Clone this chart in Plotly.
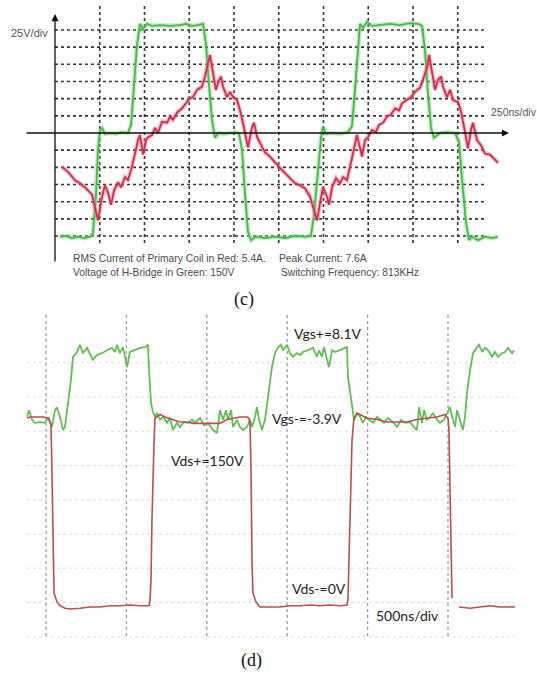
import plotly.graph_objects as go

# ---------------- DATA ----------------
# Panel (c): H-bridge voltage (green, V) and primary coil current (red, A) vs time (ns)
c_green_t = [28, 61, 95, 129, 162, 196, 212, 229, 240, 251, 263, 279, 307, 341, 374, 408, 425, 441, 458, 475,
             492, 514, 542, 587, 643, 698, 732, 765, 799, 827, 844, 860, 877, 894, 911, 944, 978, 1011, 1028, 1045,
             1062, 1078, 1095, 1123, 1173, 1229, 1285, 1341, 1397, 1430, 1447, 1469, 1486, 1497, 1514, 1548, 1592,
             1637, 1659, 1676, 1693, 1704, 1721, 1743, 1771, 1816, 1872, 1927, 1983, 2028, 2050, 2067, 2084, 2101,
             2117, 2151, 2190, 2235, 2257, 2274, 2296, 2313, 2330, 2363, 2402, 2441, 2475]
c_green_v = [-151, -150, -153, -151, -153, -151, -146, -90, -25, 3, 7, -1, 0, -1, 1, 0, 12, 70, 128, 159,
             151, 159, 156, 157, 156, 157, 159, 156, 157, 159, 128, 70, 19, -7, 0, -1, 0, 1, -1, -25,
             -90, -144, -156, -151, -153, -151, -153, -150, -151, -150, -119, -54, -7, 9, -1, 0, -1,
             1, 10, 63, 128, 159, 153, 162, 156, 157, 159, 157, 160, 159, 156, 121, 55, 7,
             -7, 0, 1, 0, -13, -68, -130, -156, -151, -156, -151, -153, -151]

c_red_t = [39, 73, 112, 140, 168, 184, 207, 223, 240, 263, 279, 296, 313, 330, 352, 369, 391, 408, 430, 447,
           464, 475, 492, 508, 520, 542, 559, 575, 598, 626, 643, 659, 682, 710, 737, 754, 771, 793, 821, 838,
           855, 866, 883, 899, 911, 927, 939, 961, 978, 994, 1017, 1034, 1050, 1078, 1101, 1112, 1129, 1145,
           1173, 1201, 1229, 1257, 1285, 1313, 1341, 1369, 1397, 1425, 1441, 1464, 1481, 1497, 1520, 1531,
           1548, 1570, 1592, 1609, 1631, 1648, 1665, 1687, 1698, 1715, 1732, 1749, 1771, 1793, 1810, 1832,
           1855, 1877, 1900, 1922, 1939, 1967, 1989, 2011, 2039, 2056, 2079, 2090, 2106, 2123, 2140, 2157,
           2168, 2190, 2207, 2224, 2252, 2268, 2285, 2307, 2324, 2335, 2358, 2380, 2402, 2430, 2458, 2475]
c_red_i = [-3.3, -3.8, -4.6, -4.9, -5.3, -5.6, -6.0, -7.2, -8.5, -6.2, -5.1, -5.8, -7.0, -5.6, -4.8, -5.3, -4.3, -4.6, -3.3, -2.0,
           -0.7, -0.2, -2.1, -0.7, -0.4, -0.2, 0.5, 0.0, 1.1, 1.0, 1.6, 1.3, 2.0, 2.4, 3.0, 3.4, 3.5, 4.2, 4.5, 5.5,
           6.8, 7.6, 5.8, 4.2, 4.9, 5.5, 4.5, 3.5, 4.0, 3.5, 3.2, 2.2, 1.0, -1.4, 0.6, 1.0, -0.4, -1.0,
           -1.9, -2.3, -2.9, -3.4, -3.9, -4.4, -4.9, -5.1, -5.4, -6.2, -7.2, -8.5, -6.8, -5.3, -6.2, -7.0,
           -5.3, -4.4, -4.9, -4.3, -4.6, -3.4, -2.0, -0.2, -1.0, -2.3, -0.7, -0.4, 0.3, 0.1, 0.8, 1.0,
           1.6, 1.8, 2.4, 2.2, 2.9, 3.2, 3.5, 4.0, 4.4, 5.2, 6.4, 7.6, 5.8, 4.2, 5.2, 5.5,
           4.5, 3.5, 4.2, 3.2, 3.0, 2.1, 0.6, -1.5, 0.3, 1.0, -0.7, -1.2, -2.0, -2.1, -2.6, -2.9]

# Panel (d): gate-source voltage (green, V) and drain-source voltage (red, V) vs time (ns)
d_vgs_t = [-118, -106, -87, -68, -37, -6, 12, 37, 56, 68, 87, 106, 118, 137, 155, 168, 193, 211, 230, 255,
           274, 292, 317, 348, 379, 410, 429, 442, 460, 479, 491, 504, 522, 553, 585, 616, 634, 641, 653, 665,
           678, 690, 709, 728, 753, 771, 790, 815, 833, 858, 883, 908, 927, 958, 983, 1007, 1039, 1063, 1082,
           1101, 1119, 1132, 1151, 1163, 1188, 1206, 1225, 1250, 1269, 1281, 1300, 1312, 1325, 1343, 1362,
           1381, 1405, 1424, 1443, 1461, 1474, 1499, 1517, 1536, 1561, 1580, 1598, 1629, 1660, 1685, 1698,
           1716, 1729, 1748, 1760, 1779, 1797, 1828, 1860, 1872, 1878, 1891, 1903, 1916, 1934, 1953, 1971,
           1990, 2009, 2034, 2058, 2077, 2102, 2127, 2158, 2183, 2208, 2233, 2264, 2295, 2307, 2320, 2338,
           2351, 2369, 2388, 2407, 2432, 2450, 2475, 2494, 2512, 2531, 2544, 2556, 2575, 2593, 2606, 2618,
           2637, 2656, 2680, 2693, 2712, 2730, 2749, 2774, 2792, 2811, 2836, 2855, 2873, 2898, 2911]
d_vgs_v = [-3.3, -2.2, -3.8, -4.3, -4.2, -4.3, -3.5, -5.0, -2.2, -1.7, -3.3, -5.5, -5.0, -1.0, 2.8, 6.7, 7.5, 8.7, 7.3, 8.2,
           7.3, 6.2, 7.0, 7.3, 7.8, 8.2, 7.5, 8.7, 7.3, 8.3, 6.7, 5.0, 7.5, 7.8, 8.2, 8.3, 8.7, 4.5, -1.0, -2.5,
           -3.3, -2.7, -3.8, -3.3, -4.3, -3.5, -5.5, -4.3, -5.0, -4.2, -4.3, -3.8, -4.3, -3.5, -4.7, -4.3, -5.5, -6.0, -2.2,
           -3.8, -2.2, -3.8, -2.2, -5.0, -3.8, -5.0, -5.5, -5.0, -3.8, -5.0, -3.3, -1.7, -3.8, -5.5, -3.8,
           0.0, 5.0, 7.3, 8.3, 8.7, 7.8, 8.7, 7.3, 6.7, 7.3, 7.0, 7.5, 7.8, 8.2, 6.7, 7.8,
           6.7, 8.3, 6.2, 5.0, 7.8, 7.5, 7.8, 8.2, 8.3, 3.3, 0.7, -1.7, -3.8, -2.7, -3.3, -4.3,
           -3.3, -3.8, -4.3, -3.3, -3.8, -4.3, -3.5, -4.2, -5.0, -3.8, -4.3, -4.2, -5.2, -5.5, -1.7, -4.3,
           -2.2, -3.8, -3.3, -2.7, -3.8, -4.3, -3.8, -2.7, -1.7, -3.8, -5.0, -2.2, -3.8, -5.5, -3.3, 0.7,
           4.5, 7.3, 8.3, 8.7, 7.5, 8.2, 7.8, 6.7, 7.5, 6.7, 7.3, 7.5, 8.2, 7.3, 7.8]

d_vds_t = [-118, -100, -56, -19, 19, 31, 37, 44, 50, 68, 87, 118, 149, 211, 274, 336, 398, 460, 522, 585,
           641, 647, 653, 659, 665, 672, 678, 709, 740, 790, 833, 877, 914, 958, 1001, 1039, 1082, 1126, 1163,
           1206, 1250, 1262, 1269, 1275, 1281, 1287, 1306, 1331, 1393, 1455, 1517, 1580, 1642, 1704, 1766,
           1828, 1872, 1878, 1884, 1891, 1897, 1903, 1915, 1934, 1953, 1996, 2058, 2121, 2183, 2245, 2307,
           2369, 2432, 2481, 2500, 2506, 2512, 2519, 2525, None, 2568, 2637, 2699, 2761, 2823, 2917]
d_vds_v = [149, 150, 150, 150, 149, 144, 108, 37, 11, 4, 1, -1, -1.6, -1, 0, 0, 1, 1, 1.6, 1,
           1, 5.5, 21, 69, 108, 131, 149, 152, 150, 148, 146, 146, 145, 145, 145, 144.5, 145, 148, 149,
           150, 150, 149, 144, 108, 37, 11, 4, 0, 0, 0, 1, 1, 1.6, 1, 1.6,
           1, 1.6, 5.5, 37, 69, 108, 131, 149, 153, 152, 149, 148, 146, 146, 146, 148,
           149, 150, 152, 149, 140, 100, 37, 7, None, 0, -1, 0, 1, 0, 0]

# ---------------- LAYOUT CONSTANTS (pixel geometry of the picture) ----------------
W, H = 537, 675
C_X0, C_XDIV, C_NS = 55, 44.75, 250
C_Y0, C_YDIV, C_V, C_A = 133, 17.17, 25, 1.672
C_TOP, C_BOT = 0, 290
D_X0, D_XDIV, D_NS = 46, 80.4, 500
D_VGS_Y0, D_PX_PER_VGS = 397, 6.0
D_VDS_Y0, D_PX_PER_VDS = 607, 1.2667
D_GRID = 34.25
D_TOP, D_BOT = 300, 650


def c_t(px): return (px - C_X0) / C_XDIV * C_NS
def c_v(py): return (C_Y0 - py) / C_YDIV * C_V
def c_i(py): return (C_Y0 - py) / C_YDIV * C_A
def d_t(px): return (px - D_X0) / D_XDIV * D_NS
def d_vgs(py): return (D_VGS_Y0 - py) / D_PX_PER_VGS
def d_vds(py): return (D_VDS_Y0 - py) / D_PX_PER_VDS


fig = go.Figure()

# panel (c) traces (glow + core)
fig.add_trace(go.Scatter(x=c_green_t, y=c_green_v, mode='lines', xaxis='x', yaxis='y',
                         line=dict(color='rgba(120,210,120,0.45)', width=4.5), hoverinfo='skip'))
fig.add_trace(go.Scatter(x=c_green_t, y=c_green_v, mode='lines', xaxis='x', yaxis='y',
                         line=dict(color='#4cb64c', width=1.8)))
fig.add_trace(go.Scatter(x=c_red_t, y=c_red_i, mode='lines', xaxis='x', yaxis='y2',
                         line=dict(color='rgba(235,130,150,0.5)', width=4.5), hoverinfo='skip'))
fig.add_trace(go.Scatter(x=c_red_t, y=c_red_i, mode='lines', xaxis='x', yaxis='y2',
                         line=dict(color='#c9304c', width=1.8)))

# panel (d) traces
fig.add_trace(go.Scatter(x=d_vgs_t, y=d_vgs_v, mode='lines', xaxis='x2', yaxis='y3',
                         line=dict(color='#62bd55', width=1.8)))
fig.add_trace(go.Scatter(x=d_vds_t, y=d_vds_v, mode='lines', xaxis='x2', yaxis='y4',
                         line=dict(color='#b7504d', width=1.6), connectgaps=False))

shapes = []
grid_c = dict(color='#333333', width=1.6, dash='dot')
for k in range(-6, 7):
    if k == 0:
        continue
    shapes.append(dict(type='line', xref='x', yref='y', x0=c_t(C_X0), x1=c_t(487),
                       y0=k * C_V, y1=k * C_V, line=grid_c, layer='below'))
for k in range(1, 10):
    shapes.append(dict(type='line', xref='x', yref='y', x0=k * C_NS, x1=k * C_NS,
                       y0=c_v(243), y1=c_v(5), line=grid_c, layer='below'))

for k in range(0, 6):
    shapes.append(dict(type='line', xref='x2', yref='y3', x0=k * D_NS, x1=k * D_NS,
                       y0=d_vgs(636), y1=d_vgs(315),
                       line=dict(color='#9a9a9a', width=1.3, dash='dot'), layer='below'))
for j in range(-1, 8):
    yy = d_vgs(D_VGS_Y0 + j * D_GRID)
    shapes.append(dict(type='line', xref='x2', yref='y3', x0=d_t(27), x1=d_t(515),
                       y0=yy, y1=yy, line=dict(color='#dcdcdc', width=1.2, dash='dot'), layer='below'))

annotations = []
# axes arrows of panel (c)
annotations.append(dict(x=c_t(509), y=0, ax=c_t(25), ay=0, xref='x', yref='y', axref='x', ayref='y',
                        text='', showarrow=True, arrowhead=2, arrowsize=1.1, arrowwidth=1.3,
                        arrowcolor='#111111', standoff=0, startstandoff=0))
annotations.append(dict(x=0, y=c_v(14), ax=0, ay=c_v(263), xref='x', yref='y', axref='x', ayref='y',
                        text='', showarrow=True, arrowhead=2, arrowsize=1.1, arrowwidth=1.3,
                        arrowcolor='#111111', standoff=0, startstandoff=0))


def txt(s, px, py, size, color, family, anchor='left'):
    annotations.append(dict(text=s, x=px / W, y=1 - py / H, xref='paper', yref='paper',
                            xanchor=anchor, yanchor='middle', showarrow=False,
                            font=dict(size=size, color=color, family=family)))


narrow = 'Liberation Sans Narrow, Arial Narrow, Liberation Sans, Arial'
txt('25V/div', 9, 33, 11, '#555555', narrow)
txt('250ns/div', 489, 112, 10.5, '#555555', narrow)
txt('RMS Current of Primary Coil in Red: 5.4A.', 71, 258, 10.3, '#4a4a4a', narrow)
txt('Voltage of H-Bridge in Green: 150V', 71, 272, 10.3, '#4a4a4a', narrow)
txt('Peak Current: 7.6A', 277, 258, 10.3, '#4a4a4a', narrow)
txt('Switching Frequency: 813KHz', 279, 272, 10.3, '#4a4a4a', narrow)
txt('(c)', 244, 299, 18, '#111111', 'Liberation Serif, Times New Roman, serif', 'center')

cal = 'Lato, Carlito, Calibri, sans-serif'
txt('Vgs+=8.1V', 292, 333, 14, '#222222', cal)
txt('Vgs-=-3.9V', 270, 418, 14, '#222222', cal)
txt('Vds+=150V', 169, 460, 14, '#222222', cal)
txt('Vds-=0V', 290, 588, 14, '#222222', cal)
txt('500ns/div', 374, 615, 14, '#222222', cal)
txt('(d)', 251, 660, 18, '#111111', 'Liberation Serif, Times New Roman, serif', 'center')

ax_off = dict(visible=False, fixedrange=True)
fig.update_layout(
    width=W, height=H, margin=dict(l=0, r=0, t=0, b=0),
    paper_bgcolor='white', plot_bgcolor='rgba(0,0,0,0)', showlegend=False,
    xaxis=dict(domain=[0, 1], range=[c_t(0), c_t(W)], anchor='y', **ax_off),
    yaxis=dict(domain=[1 - C_BOT / H, 1 - C_TOP / H], range=[c_v(C_BOT), c_v(C_TOP)], anchor='x', **ax_off),
    yaxis2=dict(overlaying='y', range=[c_i(C_BOT), c_i(C_TOP)], anchor='x', **ax_off),
    xaxis2=dict(domain=[0, 1], range=[d_t(0), d_t(W)], anchor='y3', **ax_off),
    yaxis3=dict(domain=[1 - D_BOT / H, 1 - D_TOP / H], range=[d_vgs(D_BOT), d_vgs(D_TOP)], anchor='x2', **ax_off),
    yaxis4=dict(overlaying='y3', range=[d_vds(D_BOT), d_vds(D_TOP)], anchor='x2', **ax_off),
    shapes=shapes, annotations=annotations,
)

fig.write_html('out.html')
